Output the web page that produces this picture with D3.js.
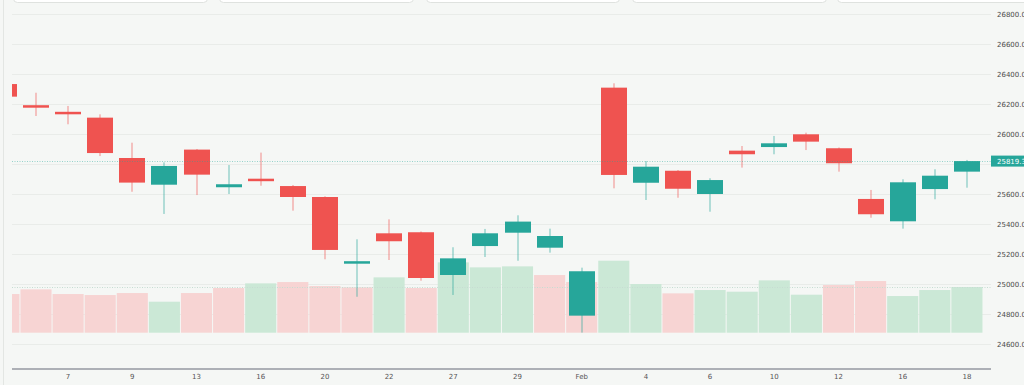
<!DOCTYPE html>
<html><head><meta charset="utf-8">
<script src="https://cdn.jsdelivr.net/npm/d3@7/dist/d3.min.js"></script>
<style>
html,body{margin:0;padding:0;background:#f5f7f5;overflow:hidden;}
svg{display:block;}
</style></head>
<body>
<svg id="c" width="1024" height="385"></svg>
<script>
const dates = ["2024-01-03","2024-01-06","2024-01-07","2024-01-08","2024-01-09","2024-01-12","2024-01-13","2024-01-14","2024-01-16","2024-01-19","2024-01-20","2024-01-21","2024-01-22","2024-01-23","2024-01-27","2024-01-28","2024-01-29","2024-01-30","2024-02-01","2024-02-03","2024-02-04","2024-02-05","2024-02-06","2024-02-07","2024-02-10","2024-02-11","2024-02-12","2024-02-13","2024-02-16","2024-02-17","2024-02-18"];
const open  = [26333,26192,26148,26109,25840,25662,25896,25645,25702,25653,25580,25138,25338,25345,25060,25253,25342,25242,24789,26309,25675,25755,25600,25889,25913,25998,25905,25567,25418,25633,25749];
const high  = [26360,26275,26187,26131,25942,25811,25900,25793,25876,25660,25585,25298,25431,25350,25245,25367,25458,25369,25109,26338,25820,25760,25705,25920,25987,26009,25910,25627,25698,25765,25827];
const low   = [26230,26120,26065,25853,25615,25467,25593,25600,25655,25489,25165,24915,25160,25022,24927,25180,25155,25209,24676,25638,25560,25575,25482,25776,25865,25893,25749,25442,25369,25565,25642];
const close = [26249,26180,26138,25873,25676,25787,25729,25665,25687,25580,25227,25152,25285,25040,25171,25338,25416,25320,25085,25727,25782,25635,25693,25865,25938,25949,25805,25465,25678,25722,25819.35];
const volume = [116,130,116,113,119,93,119,134,148,152,140,136,166,134,211,196,199,173,152,216,146,118,128,123,157,114,143,155,110,128,137];
const priceTicks = [24600,24800,25000,25200,25400,25600,25800,26000,26200,26400,26600,26800];
const lastPrice = 25819.35;

const W = 1024, H = 385;
const plotL = 12, plotR = 991, axisY = 369;
const up = "#26a69a", down = "#ef5350";
const upVol = "#cbe8d6", downVol = "#f7d4d3";

const svg = d3.select("#c");
svg.append("rect").attr("width",W).attr("height",H).attr("fill","#f5f7f5");

// top cards
const cards = [[13,207],[219,413],[426,619],[632,826],[837,1034]];
svg.selectAll("rect.card").data(cards).enter().append("rect")
  .attr("x",d=>d[0]+0.5).attr("y",-10).attr("width",d=>d[1]-d[0]).attr("height",12.5)
  .attr("rx",4).attr("fill","#ffffff").attr("stroke","#dfe2df").attr("stroke-width",1);

// left border
svg.append("line").attr("x1",3.5).attr("x2",3.5).attr("y1",0).attr("y2",H).attr("stroke","#e3e6e3");

const x = d3.scaleBand().domain(dates).range([-12.15, 982.95]).paddingInner(0).paddingOuter(0);
const y = d3.scaleLinear().domain([24600,26800]).range([344,14]);
const vy = d3.scaleLinear().domain([0,d3.max(volume)]).range([332.7,260.7]);
const cx = i => x(dates[i]) + x.bandwidth()/2;

svg.append("defs").append("clipPath").attr("id","clip")
  .append("rect").attr("x",plotL).attr("y",0).attr("width",plotR-plotL).attr("height",axisY);

// grid
svg.append("g").selectAll("line").data(priceTicks).enter().append("line")
  .attr("x1",plotL).attr("x2",plotR)
  .attr("y1",d=>Math.round(y(d))+0.5).attr("y2",d=>Math.round(y(d))+0.5)
  .attr("stroke","#e9ece9").attr("stroke-width",1);

const g = svg.append("g").attr("clip-path","url(#clip)");
const idx = d3.range(dates.length);

// volume
const vw = x.bandwidth();
g.append("g").selectAll("rect").data(idx).enter().append("rect")
  .attr("x",i=>cx(i)-vw/2+0.5).attr("width",vw-1)
  .attr("y",i=>vy(volume[i])).attr("height",i=>vy(0)-vy(volume[i]))
  .attr("fill",i=>{const dn = i===0 ? close[i]<open[i] : close[i]<close[i-1]; return dn?downVol:upVol;});

// volume last value line
g.append("line").attr("x1",plotL).attr("x2",plotR)
  .attr("y1",Math.round(vy(volume[volume.length-1]))+0.5).attr("y2",Math.round(vy(volume[volume.length-1]))+0.5)
  .attr("stroke","#c6dcd2").attr("stroke-dasharray","1,1.5");

// wicks
g.append("g").selectAll("rect").data(idx).enter().append("rect")
  .attr("x",i=>Math.round(cx(i))-0.5).attr("width",1)
  .attr("y",i=>y(high[i])).attr("height",i=>y(low[i])-y(high[i]))
  .attr("fill",i=>close[i]>=open[i]?up:down).attr("opacity",0.65);

// bodies
const bw = 26;
g.append("g").selectAll("rect").data(idx).enter().append("rect")
  .attr("x",i=>Math.round(cx(i))-bw/2).attr("width",bw)
  .attr("y",i=>y(Math.max(open[i],close[i])))
  .attr("height",i=>Math.max(2.5,Math.abs(y(open[i])-y(close[i]))))
  .attr("fill",i=>close[i]>=open[i]?up:down);

// last price dotted line
svg.append("line").attr("x1",plotL).attr("x2",plotR)
  .attr("y1",Math.round(y(lastPrice))+0.5).attr("y2",Math.round(y(lastPrice))+0.5)
  .attr("stroke",up).attr("stroke-opacity",0.45).attr("stroke-dasharray","1,1.5");

// right axis (labels hidden where the last-price label sits)
const axisTicks = priceTicks.filter(v => Math.abs(y(v)-y(lastPrice)) > 9);
const ra = svg.append("g").attr("transform",`translate(${plotR},0)`)
  .call(d3.axisRight(y).tickValues(axisTicks).tickSize(0).tickPadding(6).tickFormat(d3.format(".2f")));
ra.select(".domain").remove();
ra.selectAll("text").attr("font-family","DejaVu Sans, sans-serif").attr("font-size","7px").attr("fill","#4a4a4a");

// last price label
const lp = svg.append("g");
lp.append("rect").attr("x",991).attr("y",y(lastPrice)-5.5).attr("width",40).attr("height",11).attr("fill",up);
lp.append("text").attr("x",997).attr("y",y(lastPrice)).attr("dy","0.35em")
  .attr("font-family","DejaVu Sans, sans-serif").attr("font-size","7px").attr("fill","#ffffff")
  .text(d3.format(".2f")(lastPrice));

// bottom axis
const parse = d3.timeParse("%Y-%m-%d");
const tickLabel = d => { const t = parse(d); return t.getDate()===1 ? d3.timeFormat("%b")(t) : String(t.getDate()); };
const tickDates = dates.filter((d,i)=>i>0 && i%2===0);
const ba = svg.append("g").attr("transform",`translate(0,${axisY})`)
  .call(d3.axisBottom(x).tickValues(tickDates).tickSize(0).tickPadding(5).tickFormat(tickLabel));
ba.select(".domain").remove();
ba.selectAll("text").attr("font-family","DejaVu Sans, sans-serif").attr("font-size","7px").attr("fill","#555");
svg.append("line").attr("x1",plotL).attr("x2",plotR).attr("y1",axisY).attr("y2",axisY)
  .attr("stroke","#9598a1").attr("stroke-width",1.5);
</script>
</body></html>
